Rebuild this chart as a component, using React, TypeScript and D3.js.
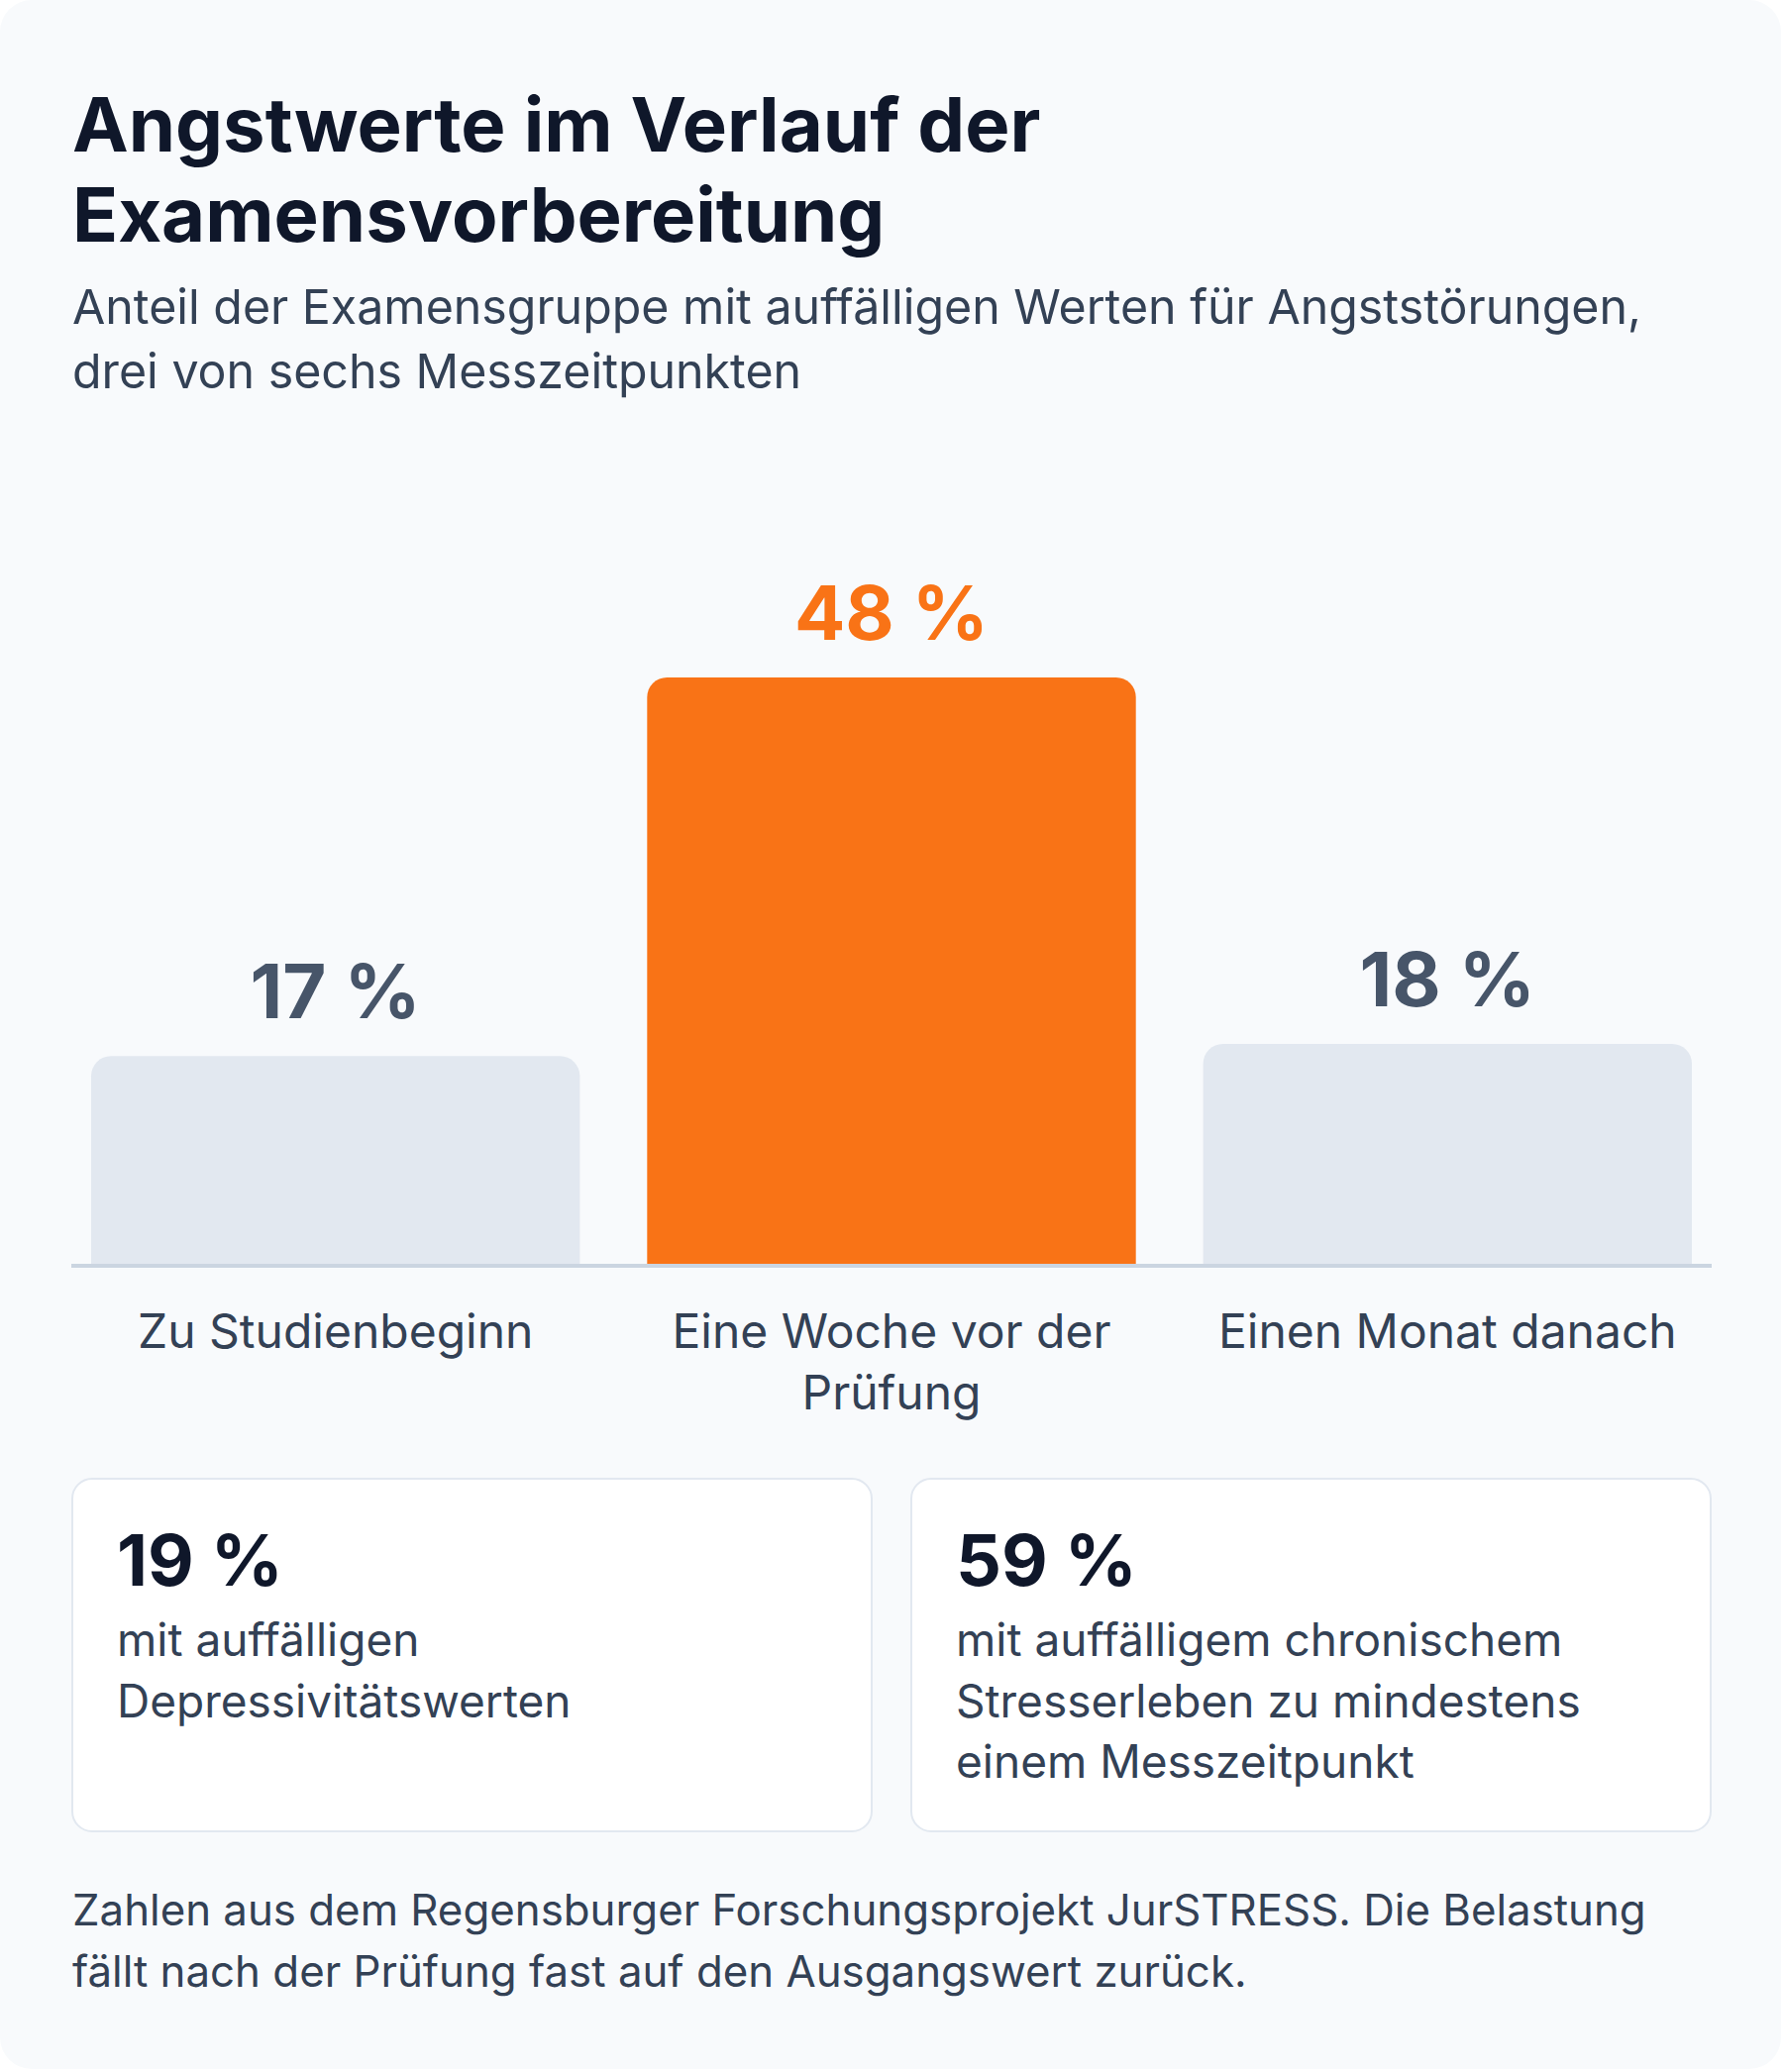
import React from "react";
import * as d3 from "d3";

// Measurement points and their shares (in percent)
const categories = ["Zu Studienbeginn", "Eine Woche vor der Prüfung", "Einen Monat danach"];
const categoryLines = [["Zu Studienbeginn"], ["Eine Woche vor der", "Prüfung"], ["Einen Monat danach"]];
const values = [17, 48, 18];
const highlighted = [false, true, false];

// Key figures shown in the two cards below the chart
const statValues = [19, 59];
const statLines = [
  ["mit auffälligen", "Depressivitätswerten"],
  ["mit auffälligem chronischem", "Stresserleben zu mindestens", "einem Messzeitpunkt"],
];

const titleLines = ["Angstwerte im Verlauf der", "Examensvorbereitung"];
const subtitleLines = [
  "Anteil der Examensgruppe mit auffälligen Werten für Angststörungen,",
  "drei von sechs Messzeitpunkten",
];
const footnoteLines = [
  "Zahlen aus dem Regensburger Forschungsprojekt JurSTRESS. Die Belastung",
  "fällt nach der Prüfung fast auf den Ausgangswert zurück.",
];

const W = 1800;
const H = 2092;
const FONT = "Inter, 'Noto Sans', sans-serif";

const C = {
  page: "#ffffff",
  card: "#f8fafc",
  title: "#0f172a",
  text: "#334155",
  muted: "#475569",
  bar: "#e2e8f0",
  accent: "#f97316",
  axis: "#cbd5e1",
  border: "#e2e8f0",
};

const left = 72;
const right = 1728;
const baseY = 1276;
const topY = 684;

function topRoundedBar(x: number, y: number, w: number, h: number, r: number) {
  const rr = Math.min(r, w / 2, h);
  const p = d3.path();
  p.moveTo(x, y + h);
  p.lineTo(x, y + rr);
  p.arcTo(x, y, x + rr, y, rr);
  p.lineTo(x + w - rr, y);
  p.arcTo(x + w, y, x + w, y + rr, rr);
  p.lineTo(x + w, y + h);
  p.closePath();
  return p.toString();
}

export default function App() {
  const x = d3
    .scaleBand<string>()
    .domain(categories)
    .range([left, right])
    .paddingInner(0.121)
    .paddingOuter(0.0356);

  const y = d3
    .scaleLinear()
    .domain([0, d3.max(values) as number])
    .range([baseY, topY]);

  const cardGap = 38;
  const cardW = (right - left - cardGap) / 2;
  const cardTop = 1493;
  const cardH = 356;
  const cardPad = 46;

  return (
    <svg
      width={W}
      height={H}
      viewBox={`0 0 ${W} ${H}`}
      style={{ position: "absolute", left: 0, top: 0, display: "block" }}
      fontFamily={FONT}
    >
      <rect x={0} y={0} width={W} height={H} fill={C.page} />
      <rect x={0} y={0} width={W - 2} height={2089} rx={32} ry={32} fill={C.card} />

      {/* Heading */}
      <text fontSize={76} fontWeight={700} fill={C.title}>
        {titleLines.map((t, i) => (
          <tspan key={i} x={73} y={153 + i * 90.5}>
            {t}
          </tspan>
        ))}
      </text>
      <text fontSize={48.3} fill={C.text}>
        {subtitleLines.map((t, i) => (
          <tspan key={i} x={73} y={327 + i * 65}>
            {t}
          </tspan>
        ))}
      </text>

      {/* Bars */}
      {values.map((v, i) => {
        const bx = x(categories[i]) as number;
        const bw = x.bandwidth();
        const by = y(v);
        return (
          <g key={categories[i]}>
            <path
              d={topRoundedBar(bx, by, bw, baseY - by, 20)}
              fill={highlighted[i] ? C.accent : C.bar}
            />
            <text
              x={bx + bw / 2}
              y={by - 38}
              textAnchor="middle"
              fontSize={76}
              fontWeight={700}
              fill={highlighted[i] ? C.accent : C.muted}
            >
              {`${v} %`}
            </text>
          </g>
        );
      })}

      {/* Baseline */}
      <line x1={left} x2={right} y1={baseY + 2} y2={baseY + 2} stroke={C.axis} strokeWidth={4} />

      {/* Category labels */}
      {categoryLines.map((lines, i) => {
        const cx = (x(categories[i]) as number) + x.bandwidth() / 2;
        return (
          <text key={i} textAnchor="middle" fontSize={48} fill={C.text}>
            {lines.map((t, j) => (
              <tspan key={j} x={cx} y={1361 + j * 62}>
                {t}
              </tspan>
            ))}
          </text>
        );
      })}

      {/* Key figure cards */}
      {statValues.map((v, i) => {
        const cx = left + i * (cardW + cardGap);
        return (
          <g key={i}>
            <rect
              x={cx + 1}
              y={cardTop}
              width={cardW - 2}
              height={cardH}
              rx={20}
              ry={20}
              fill="#ffffff"
              stroke={C.border}
              strokeWidth={2}
            />
            <text x={cx + cardPad} y={1601} fontSize={72} fontWeight={700} fill={C.title}>
              {`${v} %`}
            </text>
            <text fontSize={46} fill={C.text}>
              {statLines[i].map((t, j) => (
                <tspan key={j} x={cx + cardPad} y={1672 + j * 61.7}>
                  {t}
                </tspan>
              ))}
            </text>
          </g>
        );
      })}

      {/* Footnote */}
      <text fontSize={43.8} fill={C.text}>
        {footnoteLines.map((t, i) => (
          <tspan key={i} x={73} y={1944 + i * 62}>
            {t}
          </tspan>
        ))}
      </text>
    </svg>
  );
}
